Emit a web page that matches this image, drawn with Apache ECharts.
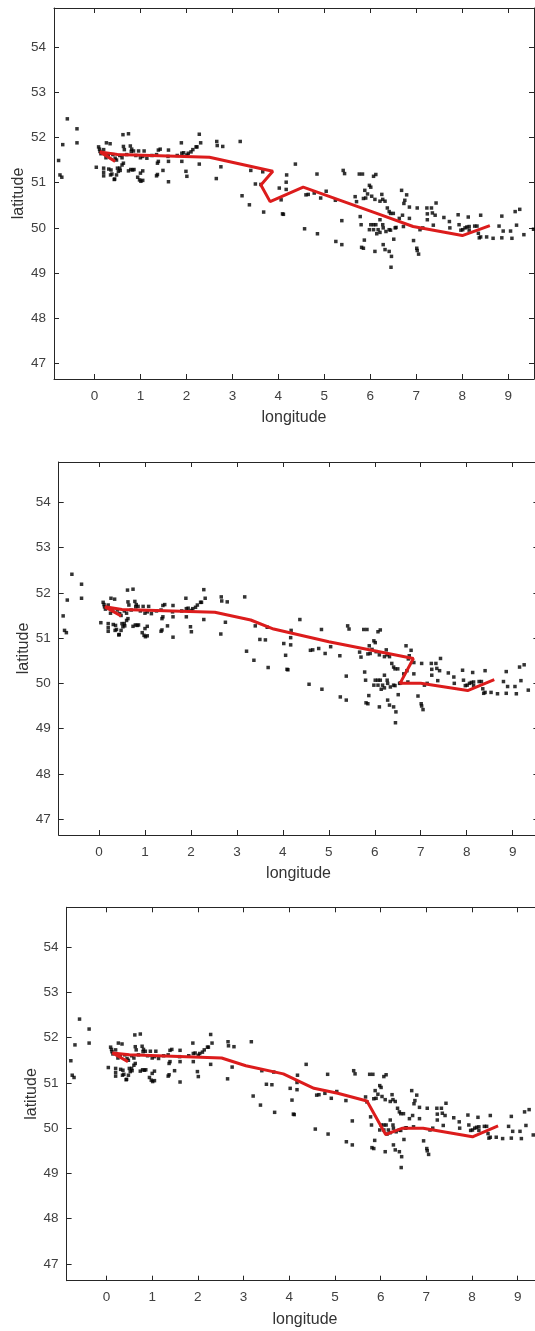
<!DOCTYPE html>
<html>
<head>
<meta charset="utf-8">
<title>route</title>
<script src="https://cdn.jsdelivr.net/npm/echarts@6/dist/echarts.min.js"></script>
<style>
    html, body {margin: 0; padding: 0; background: #fff;}
    #main {width: 535px; height: 1331px;}
</style>
</head>
<body>
<div id="main"></div>
<script>
// tick labels
var xTicks = [0, 1, 2, 3, 4, 5, 6, 7, 8, 9];
var yTicks = [47, 48, 49, 50, 51, 52, 53, 54];

// scatter points [longitude, latitude] (same in all three plots)
var points = [
    [-0.89, 52.18], [-0.59, 52.41], [-0.38, 52.19], [-0.38, 51.88], [-0.69, 51.84], [-0.78, 51.49], [-0.75, 51.17], [-0.71, 51.12],
    [0.04, 51.34], [0.11, 51.74], [0.12, 51.69], [0.14, 51.64], [0.2, 51.73], [0.09, 51.79], [0.26, 51.88], [0.34, 51.86],
    [0.62, 52.06], [0.74, 52.08], [0.63, 51.8], [0.65, 51.73], [0.78, 51.81], [0.81, 51.74], [0.8, 51.69], [0.85, 51.7],
    [0.96, 51.7], [1.08, 51.7], [1.14, 51.54], [1.35, 51.62], [1.39, 51.72], [1.61, 51.72], [1.89, 51.88], [1.9, 51.65], [1.94, 51.66],
    [2.01, 51.61], [2.04, 51.65], [2.1, 51.68], [2.14, 51.73], [2.21, 51.79], [2.28, 52.07], [2.31, 51.88],
    [1.39, 51.47], [1.61, 51.47], [1.49, 51.27], [1.35, 51.15], [1.61, 51.02], [1.9, 51.47], [1.99, 51.25], [2.01, 51.14], [2.28, 51.41],
    [0.2, 51.32], [0.2, 51.23], [0.2, 51.15], [0.31, 51.3], [0.36, 51.28], [0.38, 51.19], [0.35, 51.17], [0.44, 51.08], [0.48, 51.17],
    [0.5, 51.32], [0.55, 51.32], [0.52, 51.25], [0.56, 51.27], [0.6, 51.39], [0.63, 51.43], [0.74, 51.26], [0.79, 51.29], [0.83, 51.28], [0.86, 51.29],
    [0.94, 51.12], [0.98, 51.06], [1.01, 51.03], [1.05, 51.05], [1.0, 51.21], [1.05, 51.26], [0.45, 51.54], [0.48, 51.5],
    [0.3, 51.6], [0.4, 51.62], [0.55, 51.6], [0.7, 51.62], [0.9, 51.6], [1.05, 51.58], [1.25, 51.6], [1.6, 51.58], [1.8, 51.6],
    [0.25, 51.55], [0.6, 51.55], [1.0, 51.55], [1.43, 51.74], [1.37, 51.43], [1.37, 51.18], [0.43, 51.07], [2.23, 51.79],
    [2.66, 51.91], [2.67, 51.82], [2.79, 51.8], [3.17, 51.91], [2.75, 51.35], [2.65, 51.09], [3.4, 51.27], [3.66, 51.24],
    [3.21, 50.71], [3.37, 50.51], [3.5, 50.97], [3.62, 50.96], [3.68, 50.35],
    [4.37, 51.41], [4.18, 51.17], [4.17, 51.01], [4.17, 50.85], [4.02, 50.88], [4.06, 50.62], [4.09, 50.31], [4.11, 50.3],
    [4.57, 49.98], [4.6, 50.73], [4.65, 50.74], [4.78, 50.77], [4.84, 51.19], [4.85, 49.87], [4.92, 50.66], [5.04, 50.81],
    [5.24, 50.61], [5.38, 50.16], [5.25, 49.7], [5.38, 49.63], [5.41, 51.27], [5.44, 51.2],
    [5.76, 51.19], [5.83, 51.19], [5.67, 50.69], [5.7, 50.58], [5.78, 50.25], [5.8, 50.07], [5.81, 49.57], [5.85, 49.55], [5.87, 49.73],
    [5.88, 50.83], [5.9, 50.66], [5.94, 50.75], [5.85, 50.65], [5.98, 50.94], [6.01, 50.9], [6.07, 51.14], [6.12, 51.18],
    [6.01, 50.07], [6.07, 50.07], [6.12, 50.07], [5.98, 49.96], [6.07, 49.96], [6.17, 49.96], [6.14, 49.87], [6.21, 49.9], [6.1, 49.48],
    [6.03, 50.7], [6.1, 50.63], [6.21, 50.59], [6.25, 50.74], [6.27, 50.63], [6.32, 50.59], [6.21, 50.18], [6.27, 50.07], [6.28, 50.0],
    [6.34, 49.92], [6.28, 49.63], [6.32, 49.52],
    [6.37, 50.44], [6.41, 50.36], [6.44, 50.32], [6.5, 50.32], [6.41, 49.96], [6.44, 49.95], [6.41, 49.48], [6.46, 49.37], [6.45, 49.13],
    [6.51, 49.75], [6.54, 50.0], [6.56, 50.01],
    [6.63, 50.21], [6.7, 50.28], [6.73, 50.54], [6.68, 50.83], [6.75, 50.61], [6.79, 50.73], [6.85, 50.46], [6.85, 50.21], [6.72, 50.03],
    [6.94, 49.72], [7.01, 49.55], [7.02, 49.5], [7.05, 49.42],
    [7.02, 50.44], [7.08, 49.96], [7.14, 50.0], [7.23, 50.44], [7.24, 50.31], [7.24, 50.18], [7.33, 50.44], [7.35, 50.33], [7.43, 50.55],
    [7.41, 50.28], [7.37, 50.06], [7.6, 50.23], [7.72, 50.14], [7.73, 50.0],
    [7.91, 50.29], [7.93, 50.07], [7.97, 49.95], [8.01, 49.96], [8.06, 50.0], [8.1, 50.02], [8.15, 50.03], [8.13, 50.24], [8.15, 49.95],
    [8.27, 50.04], [8.32, 50.04], [8.4, 50.28], [8.35, 49.88], [8.4, 49.8], [8.37, 49.78], [8.53, 49.8], [8.67, 49.77],
    [8.8, 50.04], [8.86, 50.26], [8.86, 49.78], [8.89, 49.93], [9.05, 49.93], [9.08, 49.77], [9.15, 50.36], [9.25, 50.41],
    [9.18, 50.06], [9.34, 49.85], [9.55, 49.97]
];

// red routes, one for each plot
var route1 = [[0.45, 51.47], [0.12, 51.68], [0.5, 51.62], [2.5, 51.56], [3.88, 51.25], [3.62, 50.95], [3.82, 50.58],
    [4.54, 50.9], [6.2, 50.3], [6.93, 50.03], [8.0, 49.83], [8.6, 50.05]];
var route2 = [[0.48, 51.49], [0.13, 51.69], [0.5, 51.63], [2.52, 51.57], [3.3, 51.4], [3.8, 51.2], [5.0, 50.92],
    [6.84, 50.55], [6.55, 50.0], [7.0, 50.0], [8.02, 49.84], [8.6, 50.08]];
var route3 = [[0.47, 51.47], [0.13, 51.66], [0.5, 51.62], [2.52, 51.55], [3.05, 51.38], [3.87, 51.2], [4.54, 50.88],
    [5.06, 50.77], [5.7, 50.6], [6.11, 49.86], [6.48, 50.0], [6.93, 50.0], [8.01, 49.81], [8.57, 50.05]];

// where each plot sits on the page (px) and its axis limits
var panels = [
    {left: 54, top: 8, width: 480, height: 371, xMin: -0.88, xMax: 9.56, yMin: 46.66, yMax: 54.86, route: route1},
    {left: 58.7, top: 462, width: 479.7, height: 373, xMin: -0.877, xMax: 9.56, yMin: 46.65, yMax: 54.89, route: route2},
    {left: 66.6, top: 907.3, width: 476.7, height: 373.4, xMin: -0.873, xMax: 9.56, yMin: 46.63, yMax: 54.88, route: route3}
];

var lineColor = '#262626';
var labelColor = '#404040';
var fontFamily = 'Liberation Sans, Arial, sans-serif';

function makeAxis(i, p, dim, pos) {
    var isX = dim === 'x';
    var ticks = isX ? xTicks : yTicks;
    var main = pos === 'bottom' || pos === 'left';
    var axis = {
        gridIndex: i,
        type: 'value',
        position: pos,
        min: isX ? p.xMin : p.yMin,
        max: isX ? p.xMax : p.yMax,
        axisLine: {show: true, onZero: false, lineStyle: {color: lineColor, width: 1}},
        axisTick: {show: true, inside: true, length: 5, customValues: ticks, lineStyle: {color: lineColor}},
        axisLabel: {
            show: main,
            customValues: ticks,
            margin: isX ? 10 : 8,
            color: labelColor,
            fontSize: 13.5,
            fontFamily: fontFamily
        },
        splitLine: {show: false}
    };
    if (main) {
        axis.name = isX ? 'longitude' : 'latitude';
        axis.nameLocation = 'middle';
        axis.nameGap = isX ? 31 : 27;
        axis.nameMoveOverlap = false;
        axis.nameTextStyle = {color: '#333', fontSize: 16, fontFamily: fontFamily};
    }
    return axis;
}

function chartShow() {
    var myChart = echarts.init(document.getElementById('main'));
    var grids = [], xAxes = [], yAxes = [], series = [];
    for (var i = 0; i < panels.length; i++) {
        var p = panels[i];
        grids.push({left: p.left, top: p.top, width: p.width, height: p.height, outerBoundsMode: 'none'});
        xAxes.push(makeAxis(i, p, 'x', 'bottom'));
        xAxes.push(makeAxis(i, p, 'x', 'top'));
        yAxes.push(makeAxis(i, p, 'y', 'left'));
        yAxes.push(makeAxis(i, p, 'y', 'right'));
        series.push({
            type: 'scatter',
            xAxisIndex: i * 2,
            yAxisIndex: i * 2,
            data: points,
            symbol: 'rect',
            symbolSize: 3.5,
            itemStyle: {color: '#000'},
            z: 2
        });
        series.push({
            type: 'line',
            xAxisIndex: i * 2,
            yAxisIndex: i * 2,
            data: p.route,
            showSymbol: false,
            lineStyle: {color: '#dc1c1c', width: 3},
            z: 3
        });
    }
    myChart.setOption({
        animation: false,
        backgroundColor: '#fff',
        grid: grids,
        xAxis: xAxes,
        yAxis: yAxes,
        series: series
    });
}

chartShow();
</script>
</body>
</html>
